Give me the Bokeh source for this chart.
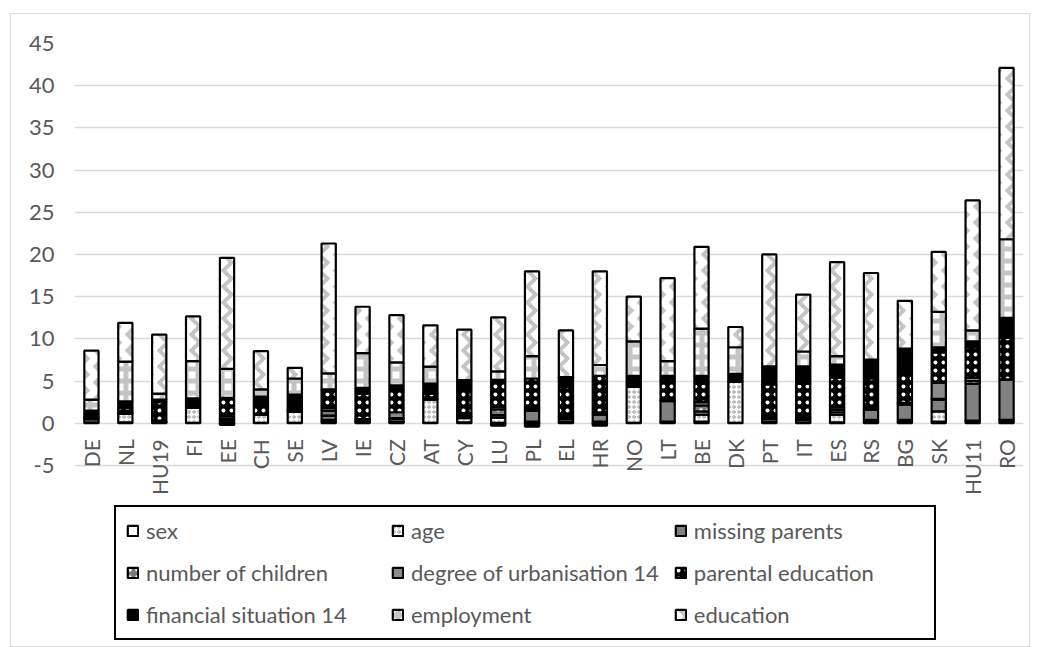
import numpy as np
from math import pi
from bokeh.plotting import figure
from bokeh.models import (ColumnDataSource, FactorRange, Range1d, FixedTicker,
                          Legend, LegendItem)
from bokeh.core.properties import value
from bokeh.embed import file_html
from bokeh.resources import INLINE

countries = ["DE", "NL", "HU19", "FI", "EE", "CH", "SE", "LV", "IE", "CZ", "AT", "CY",
             "LU", "PL", "EL", "HR", "NO", "LT", "BE", "DK", "PT", "IT", "ES", "RS",
             "BG", "SK", "HU11", "RO"]

series_names = ["sex", "age", "missing parents", "number of children",
                "degree of urbanisation 14", "parental education",
                "financial situation 14", "employment", "education"]

sex = [0.1, 0.1, 0.05, 0.05, 0.0, 0.05, 0.05, 0.2, 0.1, 0.1, 0.05, 0.1,
       0.05, 0.1, 0.1, 0.1, 0.05, 0.1, 0.2, 0.05, 0.1, 0.1, 0.1, 0.2,
       0.2, 0.2, 0.2, 0.2]
age = [0.35, 1.0, 0.05, 1.8, 0.0, 1.0, 1.3, 0.2, 0.1, 0.1, 2.75, 0.5,
       0.6, 0.1, 0.1, 0.1, 4.25, 0.1, 0.8, 4.85, 0.1, 0.3, 0.9, 0.2,
       0.2, 1.2, 0.1, 0.2]
missing_parents = [0.1, 0.1, 0.05, 0.0, 0.3, 0.0, 0.1, 0.5, 0.1, 0.3, 0.1, 0.2,
                   0.3, 1.3, 0.3, 0.8, 0.0, 2.4, 0.4, 0.0, 0.3, 0.1, 0.3, 1.2,
                   1.8, 1.4, 4.4, 4.8]
number_of_children = [0.1, 0.1, 0.05, 0.0, 0.2, 0.0, 0.1, 0.6, 0.1, 0.1, 0.1, 0.2,
                      0.7, 0.05, 0.1, 0.1, 0.0, 0.05, 0.7, 0.0, 0.2, 0.1, 0.3, 0.1,
                      0.1, 0.1, 0.3, 0.0]
urbanisation = [0.1, 0.2, 0.1, 0.0, 0.3, 0.0, 0.15, 0.3, 0.1, 0.7, 0.0, 0.2,
                0.3, 0.25, 0.2, 0.2, 0.0, 0.05, 0.4, 0.0, 0.2, 0.1, 0.3, 0.1,
                0.1, 1.9, 0.4, 0.0]
parental_education = [0.3, 0.3, 2.2, 0.0, 2.2, 1.0, 0.3, 2.0, 3.0, 2.7, 0.5, 3.0,
                      3.2, 3.5, 3.5, 4.3, 0.0, 2.5, 2.2, 0.0, 3.7, 4.0, 3.5, 3.5,
                      3.7, 3.6, 3.6, 4.9]
financial_situation = [0.45, 0.8, 0.3, 1.1, -0.2, 1.1, 1.4, 0.2, 0.7, 0.5, 1.2, 0.8,
                       -0.3, -0.4, 1.0, -0.3, 1.3, 0.4, 0.9, 0.95, 2.0, 2.05, 1.55, 2.25,
                       2.5, 0.6, 0.7, 2.4]
employment = [1.3, 4.7, 0.7, 4.4, 3.45, 0.85, 1.9, 1.9, 4.1, 2.7, 2.0, 0.1,
              1.0, 2.65, 0.15, 1.3, 4.1, 1.75, 5.6, 3.15, 0.15, 1.75, 1.0, 0.0,
              0.25, 4.2, 1.3, 9.3]
education = [5.8, 4.6, 7.0, 5.3, 13.15, 4.54, 1.26, 15.4, 5.5, 5.6, 4.9, 6.0,
             6.4, 10.05, 5.55, 11.1, 5.3, 9.85, 9.7, 2.4, 13.25, 6.75, 11.15, 10.25,
             5.65, 7.1, 15.4, 20.3]

y_ticks = [-5, 0, 5, 10, 15, 20, 25, 30, 35, 40, 45]

series = [sex, age, missing_parents, number_of_children, urbanisation,
          parental_education, financial_situation, employment, education]

styles = [
    dict(fill_color="#ffffff"),
    dict(fill_color="#ffffff", hatch_pattern="ring", hatch_color="#9a9a9a", hatch_scale=5, hatch_weight=1),
    dict(fill_color="#808080"),
    dict(fill_color="#7a7a7a", hatch_pattern="dot", hatch_color="#ffffff", hatch_scale=7, hatch_weight=0.5),
    dict(fill_color="#8c8c8c"),
    dict(fill_color="#000000", hatch_pattern="dot", hatch_color="#ffffff", hatch_scale=8, hatch_weight=0.5),
    dict(fill_color="#000000"),
    dict(fill_color="#ffffff", hatch_pattern="cross", hatch_color="#c4c4c4", hatch_scale=12, hatch_weight=5),
    dict(fill_color="#ffffff", hatch_pattern="vertical_wave", hatch_color="#c4c4c4", hatch_scale=16, hatch_weight=4),
]

FONT = "Lato"
GRAY = "#595959"
FS = "22px"

p = figure(x_range=FactorRange(factors=countries, range_padding=0),
           y_range=Range1d(-26.7, 45), width=1020, height=634,
           output_backend="svg", toolbar_location=None,
           min_border_left=63, min_border_right=8, min_border_top=29,
           min_border_bottom=0, margin=(13, 0, 0, 10),
           styles={"border": "1px solid #d9d9d9"})
p.outline_line_color = None
p.xaxis.visible = False
p.xgrid.visible = False
p.ygrid.ticker = FixedTicker(ticks=y_ticks)
p.ygrid.grid_line_color = "#d9d9d9"
p.ygrid.grid_line_width = 1.3
p.yaxis.ticker = FixedTicker(ticks=y_ticks)
p.yaxis.major_label_overrides = {t: str(t) for t in y_ticks}
p.yaxis.axis_line_color = None
p.yaxis.major_tick_line_color = None
p.yaxis.minor_tick_line_color = None
p.yaxis.major_tick_out = 0
p.yaxis.major_label_standoff = 20
p.yaxis.major_label_text_font = FONT
p.yaxis.major_label_text_font_size = FS
p.yaxis.major_label_text_color = GRAY

pos = np.zeros(len(countries))
neg = np.zeros(len(countries))
items = []
for name, vals, st in zip(series_names, series, styles):
    v = np.array(vals, dtype=float)
    bottom = np.where(v >= 0, pos, neg + v)
    top = np.where(v >= 0, pos + v, neg)
    pos = np.where(v >= 0, pos + v, pos)
    neg = np.where(v < 0, neg + v, neg)
    src = ColumnDataSource(dict(x=countries, bottom=bottom, top=top))
    r = p.vbar(x="x", bottom="bottom", top="top", width=0.42, source=src,
               line_color="#000000", line_width=2.2, **st)
    items.append(LegendItem(label=name, renderers=[r]))

lab_src = ColumnDataSource(dict(x=countries, y=[0] * len(countries), t=countries))
p.text(x="x", y="y", text="t", source=lab_src, angle=pi / 2, text_align="right",
       text_baseline="middle", y_offset=16, text_font=value(FONT),
       text_font_size="21px", text_color=GRAY)

legend = Legend(items=items, ncols=3, orientation="horizontal", location=(40, 8),
                glyph_width=13, glyph_height=13, label_standoff=7,
                label_text_font=FONT, label_text_font_size=FS,
                label_text_color=GRAY, label_height=25, label_width=230,
                spacing=15, padding=10, margin=0,
                border_line_color="#000000", border_line_width=2,
                border_line_alpha=1.0,
                background_fill_color="#ffffff", background_fill_alpha=1.0)
p.add_layout(legend)

open("out.html", "w").write(file_html(p, INLINE))
